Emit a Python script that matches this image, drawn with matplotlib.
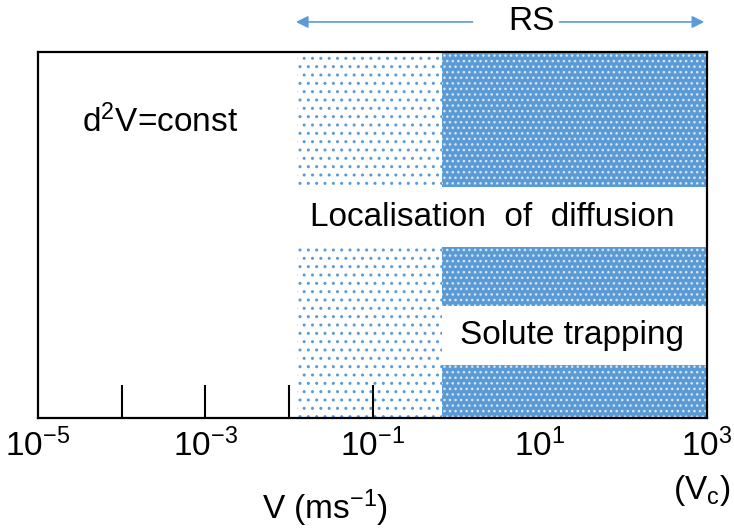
import numpy as np
import matplotlib.pyplot as plt
from matplotlib import transforms

plt.rcParams['font.family'] = ['Liberation Sans', 'DejaVu Sans']
plt.rcParams['mathtext.fontset'] = 'custom'
plt.rcParams['mathtext.rm'] = 'Liberation Sans'
plt.rcParams['mathtext.it'] = 'Liberation Sans'
plt.rcParams['hatch.linewidth'] = 1.0

# 0. Data (velocity in m/s, log axis)
x_range = (1e-5, 1e3)
light_zone = (0.0125, 0.68)      # localisation of diffusion begins
dense_zone = (0.68, 1e3)         # solute trapping
loc_band = (0.467, 0.631)        # white band, fraction of height
trap_band = (0.145, 0.306)
mark_ticks = [1e-4, 1e-3, 1e-2, 1e-1]
label_ticks = [1e-5, 1e-3, 1e-1, 1e1, 1e3]
label_text = [r'$10^{-5}$', r'$10^{-3}$', r'$10^{-1}$', r'$10^{1}$', r'$10^{3}$']
blue = '#5B9BD5'

# 1. Figure
fig = plt.figure(figsize=(7.34, 5.32), dpi=100)
ax = fig.add_axes([0.0518, 0.2143, 0.9114, 0.688])
ax.set_xscale('log')
ax.set_xlim(*x_range)
ax.set_ylim(0, 1)

# 2. Shaded regimes
ax.axvspan(light_zone[0], light_zone[1], facecolor='white', edgecolor=blue,
           hatch='..', linewidth=0)
ax.axvspan(dense_zone[0], dense_zone[1], facecolor=blue, edgecolor='#d6e6f5',
           hatch='...', linewidth=0)
ax.fill_between([light_zone[0], x_range[1]], loc_band[0], loc_band[1], color='white', lw=0)
ax.fill_between([dense_zone[0], x_range[1]], trap_band[0], trap_band[1], color='white', lw=0)

# 3. Texts
fs = 24
ax.text(3.4e-5, 0.81, r'd$^{2}$V=const', fontsize=fs, va='center', ha='left')
ax.text(0.018, np.mean(loc_band), 'Localisation  of  diffusion', fontsize=fs, va='center', ha='left')
ax.text(1.1, np.mean(trap_band), 'Solute trapping', fontsize=fs, va='center', ha='left')

# 4. Ticks
ax.set_xticks(mark_ticks)
ax.set_xticklabels([])
ax.tick_params(axis='x', which='major', direction='in', length=24, width=1.5, color='black')
ax.minorticks_off()
ax.set_yticks([])
for s in ax.spines.values():
    s.set_linewidth(1.6)

trans = transforms.blended_transform_factory(ax.transData, ax.transAxes)
for xv, lab in zip(label_ticks, label_text):
    ax.text(xv, -0.075, lab, fontsize=fs, ha='center', va='center', transform=trans)
fig.text(0.995, 0.078, r'(V$_{c}$)', fontsize=fs, ha='right', va='center')
fig.text(0.443, 0.045, r'V (ms$^{-1}$)', fontsize=fs, ha='center', va='center')

# 5. RS arrows
ax.text(8, 1.082, 'RS', fontsize=fs, ha='center', va='center', transform=trans)
ax.annotate('', xy=(light_zone[0] * 0.9, 1.082), xytext=(1.7, 1.082), xycoords=trans,
            arrowprops=dict(arrowstyle='-|>', color=blue, lw=1.2, mutation_scale=18),
            annotation_clip=False)
ax.annotate('', xy=(x_range[1], 1.082), xytext=(16, 1.082), xycoords=trans,
            arrowprops=dict(arrowstyle='-|>', color=blue, lw=1.2, mutation_scale=18),
            annotation_clip=False)

plt.savefig('out.png', dpi=100)
